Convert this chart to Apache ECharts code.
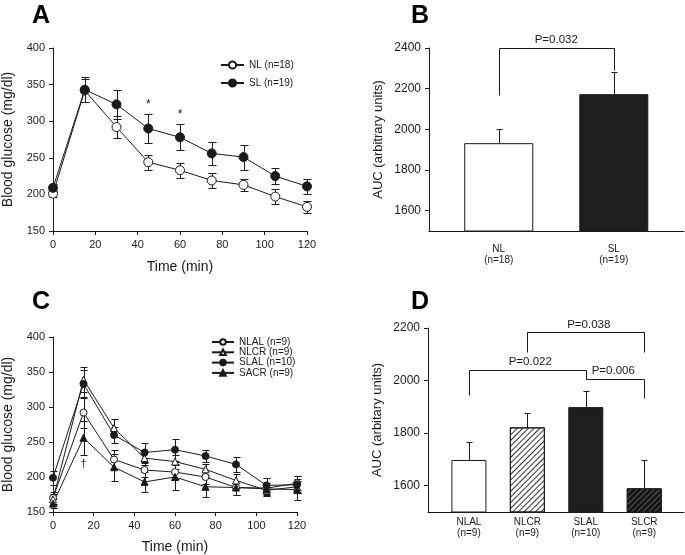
<!DOCTYPE html>
<html><head><meta charset="utf-8">
<script src="https://cdn.jsdelivr.net/npm/echarts@6/dist/echarts.min.js"></script>
<style>html,body{margin:0;padding:0;background:#fff}#c{width:685px;height:555px}</style>
</head><body><div id="c"></div>
<script>
// ---------- data ----------
const timeMin = [0, 15, 30, 45, 60, 75, 90, 105, 120];
// Panel A
const nlA     = [201, 342, 292, 244, 233, 219, 213, 197, 183];
const nlAErr  = [5, 16, 15, 10, 10, 10, 8, 10, 8];
const slA     = [209, 343, 323, 290, 278, 256, 251, 225, 211];
const slAErr  = [5, 17, 20, 20, 18, 16, 17, 11, 10];
const starTimes = [45, 60];
// Panel C
const nlalC    = [170, 292, 225, 210, 207, 200, 185, 184, 191];
const nlalCErr = [8, 22, 14, 10, 10, 10, 10, 8, 10];
const nlcrC    = [168, 339, 270, 227, 222, 211, 195, 181, 186];
const nlcrCErr = [8, 18, 13, 10, 10, 8, 10, 8, 8];
const slalC    = [199, 333, 260, 235, 239, 230, 218, 188, 189];
const slalCErr = [10, 20, 12, 13, 16, 8, 11, 10, 12];
const sacrC    = [162, 256, 214, 193, 200, 186, 185, 183, 182];
const sacrCErr = [6, 24, 19, 14, 19, 14, 10, 8, 15];
const daggerTimes = [15];
// Panel B
const catsB   = ['NL\n(n=18)', 'SL\n(n=19)'];
const aucB    = [1932, 2173];
const aucBErr = [68, 108];
const bracketsB = [
  { path: [[0, 2170], [0, 2400], [1, 2400], [1, 2294]], label: 'P=0.032', at: [0.5, 2400] }
];
// Panel D
const catsD   = ['NLAL\n(n=9)', 'NLCR\n(n=9)', 'SLAL\n(n=10)', 'SLCR\n(n=9)'];
const aucD    = [1698, 1822, 1899, 1590];
const aucDErr = [67, 53, 60, 108];
const bracketsD = [
  { path: [[1, 2110], [1, 2183], [3, 2183], [3, 2110]], label: 'P=0.038', at: [2.05, 2183] },
  { path: [[0, 1946], [0, 2041], [2, 2041], [2, 2006]], label: 'P=0.022', at: [1.05, 2041] },
  { path: [[2, 2006], [3, 2006], [3, 1933]], label: 'P=0.006', at: [2.47, 2006] }
];
const ticksB = [1600, 1800, 2000, 2200, 2400];
const ticksD = [1600, 1800, 2000, 2200];

// ---------- styles ----------
const FONT = 'Liberation Sans, Arial, sans-serif';
const INK = '#1a1a1a';
const openSym = { color: '#fff', borderColor: INK, borderWidth: 1 };
const fillSym = { color: '#1a1a1a', borderColor: INK, borderWidth: 1 };
const barStylesB = [
  { color: '#fff', borderColor: INK, borderWidth: 1 },
  { color: '#1e1e1e', borderColor: INK, borderWidth: 1 }
];
const barStylesD = [
  { color: '#fff', borderColor: INK, borderWidth: 1 },
  { color: '#fff', borderColor: INK, borderWidth: 1,
    decal: { symbol: 'rect', symbolSize: 1, dashArrayX: [1, 0], dashArrayY: [1, 3], rotation: -Math.PI / 4, color: '#333' } },
  { color: '#1e1e1e', borderColor: INK, borderWidth: 1 },
  { color: '#141414', borderColor: INK, borderWidth: 1,
    decal: { symbol: 'rect', symbolSize: 1, dashArrayX: [1, 0], dashArrayY: [1, 3], rotation: -Math.PI / 4, color: '#555' } }
];

const px = v => Math.round(v) + 0.5;
const ln = (x1, y1, x2, y2) => ({ type: 'line', shape: { x1: px(x1), y1: px(y1), x2: px(x2), y2: px(y2) }, style: { stroke: INK, lineWidth: 1 } });

function errSeries(xs, ys, es, ai, cap) {
  return {
    type: 'custom', xAxisIndex: ai, yAxisIndex: ai, z: 2, silent: true,
    data: xs.map((x, i) => [x, ys[i], es[i]]),
    renderItem(p, api) {
      const x = api.value(0), y = api.value(1), e = api.value(2);
      const t = api.coord([x, y + e]), b = api.coord([x, y - e]);
      return { type: 'group', children: [
        ln(t[0], t[1], b[0], b[1]),
        ln(t[0] - cap, t[1], t[0] + cap, t[1]),
        ln(b[0] - cap, b[1], b[0] + cap, b[1])
      ] };
    }
  };
}
function barErrSeries(ys, es, ai, cap) {
  return {
    type: 'custom', xAxisIndex: ai, yAxisIndex: ai, z: 4, silent: true,
    data: ys.map((y, i) => [i, y, es[i]]),
    renderItem(p, api) {
      const x = api.value(0), y = api.value(1), e = api.value(2);
      const t = api.coord([x, y + e]), b = api.coord([x, y]);
      return { type: 'group', children: [
        ln(t[0], t[1], b[0], b[1]),
        ln(t[0] - cap, t[1], t[0] + cap, t[1])
      ] };
    }
  };
}
function bracketSeries(brs, ai) {
  return {
    type: 'custom', xAxisIndex: ai, yAxisIndex: ai, z: 5, silent: true, clip: false,
    data: brs.map((b, i) => [b.at[0], b.at[1], i]),
    renderItem(p, api) {
      const b = brs[api.value(2)];
      const pts = b.path.map(q => { const c = api.coord(q); return [px(c[0]), px(c[1])]; });
      const c = api.coord(b.at);
      return { type: 'group', children: [
        { type: 'polyline', shape: { points: pts }, style: { stroke: INK, lineWidth: 1, fill: 'none' } },
        { type: 'text', x: c[0], y: c[1] - 8, style: { text: b.label, fontSize: 11.5, fontFamily: FONT, fill: INK, align: 'center', verticalAlign: 'middle' } }
      ] };
    }
  };
}
function markSeries(times, xs, ys, es, ai, sym, dir, gap, size) {
  return {
    type: 'custom', xAxisIndex: ai, yAxisIndex: ai, z: 5, silent: true,
    data: times.map(t => { const i = xs.indexOf(t); return [t, ys[i] + dir * es[i]]; }),
    renderItem(p, api) {
      const c = api.coord([api.value(0), api.value(1)]);
      return { type: 'text', x: c[0], y: c[1] + (dir > 0 ? -gap : gap),
        style: { text: sym, fontSize: size, fontFamily: FONT, fill: INK, align: 'center', verticalAlign: 'middle' } };
    }
  };
}
function lineSeries(name, xs, ys, ai, symbol, st, size) {
  return {
    type: 'line', name, xAxisIndex: ai, yAxisIndex: ai, z: 3,
    data: xs.map((x, i) => [x, ys[i]]),
    symbol, symbolSize: size, showSymbol: true,
    itemStyle: st, lineStyle: { color: INK, width: 1 },
    emphasis: { disabled: true }
  };
}

const axLine = { show: true, onZero: false, lineStyle: { color: INK, width: 1 } };
const tick = { show: true, inside: false, length: 4, lineStyle: { color: INK } };
const lab = (fs, m) => ({ fontSize: fs, fontFamily: FONT, color: INK, margin: m, formatter: v => String(v) });
const nameStyle = fs => ({ fontSize: fs, fontFamily: FONT, color: INK });
const letter = (t, l, tp) => ({ text: t, left: l, top: tp, padding: 0,
  textStyle: { fontSize: 25, fontWeight: 'bold', fontFamily: FONT, color: '#000' } });

const option = {
  animation: false,
  backgroundColor: '#fff',
  title: [letter('A', 32, 4), letter('B', 411, 4), letter('C', 32, 290), letter('D', 411, 290)],
  legend: [
    { data: ['NL (n=18)', 'SL (n=19)'], orient: 'vertical', left: 220, top: 59, padding: 0,
      itemWidth: 23, itemHeight: 9, itemGap: 6, selectedMode: false,
      textStyle: { fontSize: 10, fontFamily: FONT, color: INK, lineHeight: 12 } },
    { data: ['NLAL (n=9)', 'NLCR (n=9)', 'SLAL (n=10)', 'SACR (n=9)'], orient: 'vertical', left: 211, top: 337, padding: 0,
      itemWidth: 22, itemHeight: 7, itemGap: 0.3, selectedMode: false,
      textStyle: { fontSize: 10, fontFamily: FONT, color: INK, lineHeight: 10 } }
  ],
  grid: [
    { left: 52, top: 48, width: 255, height: 183 },
    { left: 429, top: 48, width: 255, height: 183 },
    { left: 51, top: 337, width: 246, height: 175 },
    { left: 428, top: 328, width: 256, height: 184 }
  ],
  xAxis: [
    { type: 'value', gridIndex: 0, min: 0, max: 120, interval: 20, axisLine: axLine, axisTick: tick, splitLine: { show: false },
      axisLabel: lab(11, 8), name: 'Time (min)', nameLocation: 'middle', nameGap: 29, nameTextStyle: nameStyle(14) },
    { type: 'value', gridIndex: 1, min: -0.606, max: 1.61, axisLine: axLine, axisTick: { show: false }, splitLine: { show: false },
      axisLabel: Object.assign(lab(10, 13), { customValues: [0, 1], lineHeight: 11, formatter: v => catsB[Math.round(v)] }) },
    { type: 'value', gridIndex: 2, min: 0, max: 120, interval: 20, axisLine: axLine, axisTick: tick, splitLine: { show: false },
      axisLabel: lab(11, 8), name: 'Time (min)', nameLocation: 'middle', nameGap: 28, nameTextStyle: nameStyle(14) },
    { type: 'value', gridIndex: 3, min: -0.70, max: 3.68, axisLine: axLine, axisTick: { show: false }, splitLine: { show: false },
      axisLabel: Object.assign(lab(10, 4), { customValues: [0, 1, 2, 3], lineHeight: 11.5, formatter: v => catsD[Math.round(v)] }) }
  ],
  yAxis: [
    { type: 'value', gridIndex: 0, min: 150, max: 400, interval: 50, axisLine: axLine, axisTick: tick, splitLine: { show: false },
      axisLabel: lab(11, 8), name: 'Blood glucose (mg/dl)', nameLocation: 'middle', nameGap: 38, nameTextStyle: nameStyle(14) },
    { type: 'value', gridIndex: 1, min: 1500, max: 2400, interval: 100, axisLine: axLine, splitLine: { show: false },
      axisTick: Object.assign({}, tick, { customValues: ticksB }),
      axisLabel: Object.assign(lab(12, 8), { customValues: ticksB }),
      name: 'AUC (arbitrary units)', nameLocation: 'middle', nameGap: 44, nameTextStyle: nameStyle(13) },
    { type: 'value', gridIndex: 2, min: 150, max: 400, interval: 50, axisLine: axLine, axisTick: tick, splitLine: { show: false },
      axisLabel: lab(11, 8), name: 'Blood glucose (mg/dl)', nameLocation: 'middle', nameGap: 38, nameTextStyle: nameStyle(14) },
    { type: 'value', gridIndex: 3, min: 1500, max: 2200, interval: 100, axisLine: axLine, splitLine: { show: false },
      axisTick: Object.assign({}, tick, { customValues: ticksD }),
      axisLabel: Object.assign(lab(12, 8), { customValues: ticksD }),
      name: 'AUC (arbitary units)', nameLocation: 'middle', nameGap: 44, nameTextStyle: nameStyle(13) }
  ],
  series: [
    // A
    errSeries(timeMin, nlA, nlAErr, 0, 4),
    errSeries(timeMin, slA, slAErr, 0, 4),
    lineSeries('NL (n=18)', timeMin, nlA, 0, 'circle', openSym, 9),
    lineSeries('SL (n=19)', timeMin, slA, 0, 'circle', fillSym, 9),
    markSeries(starTimes, timeMin, slA, slAErr, 0, '*', 1, 9, 12),
    // B
    { type: 'bar', xAxisIndex: 1, yAxisIndex: 1, barWidth: 69, z: 2, emphasis: { disabled: true },
      data: aucB.map((v, i) => ({ value: [i, v], itemStyle: barStylesB[i] })) },
    barErrSeries(aucB, aucBErr, 1, 3),
    bracketSeries(bracketsB, 1),
    // C
    errSeries(timeMin, nlalC, nlalCErr, 2, 3.5),
    errSeries(timeMin, nlcrC, nlcrCErr, 2, 3.5),
    errSeries(timeMin, slalC, slalCErr, 2, 3.5),
    errSeries(timeMin, sacrC, sacrCErr, 2, 3.5),
    lineSeries('NLAL (n=9)', timeMin, nlalC, 2, 'circle', openSym, 7),
    lineSeries('NLCR (n=9)', timeMin, nlcrC, 2, 'triangle', openSym, 7),
    lineSeries('SLAL (n=10)', timeMin, slalC, 2, 'circle', fillSym, 7),
    lineSeries('SACR (n=9)', timeMin, sacrC, 2, 'triangle', fillSym, 7),
    markSeries(daggerTimes, timeMin, sacrC, sacrCErr, 2, '†', -1, 9, 11),
    // D
    { type: 'bar', xAxisIndex: 3, yAxisIndex: 3, barWidth: 35, z: 2, emphasis: { disabled: true },
      data: aucD.map((v, i) => ({ value: [i, v], itemStyle: barStylesD[i] })) },
    barErrSeries(aucD, aucDErr, 3, 3),
    bracketSeries(bracketsD, 3)
  ]
};
const chart = echarts.init(document.getElementById('c'), null, { renderer: 'canvas' });
chart.setOption(option);
</script></body></html>
